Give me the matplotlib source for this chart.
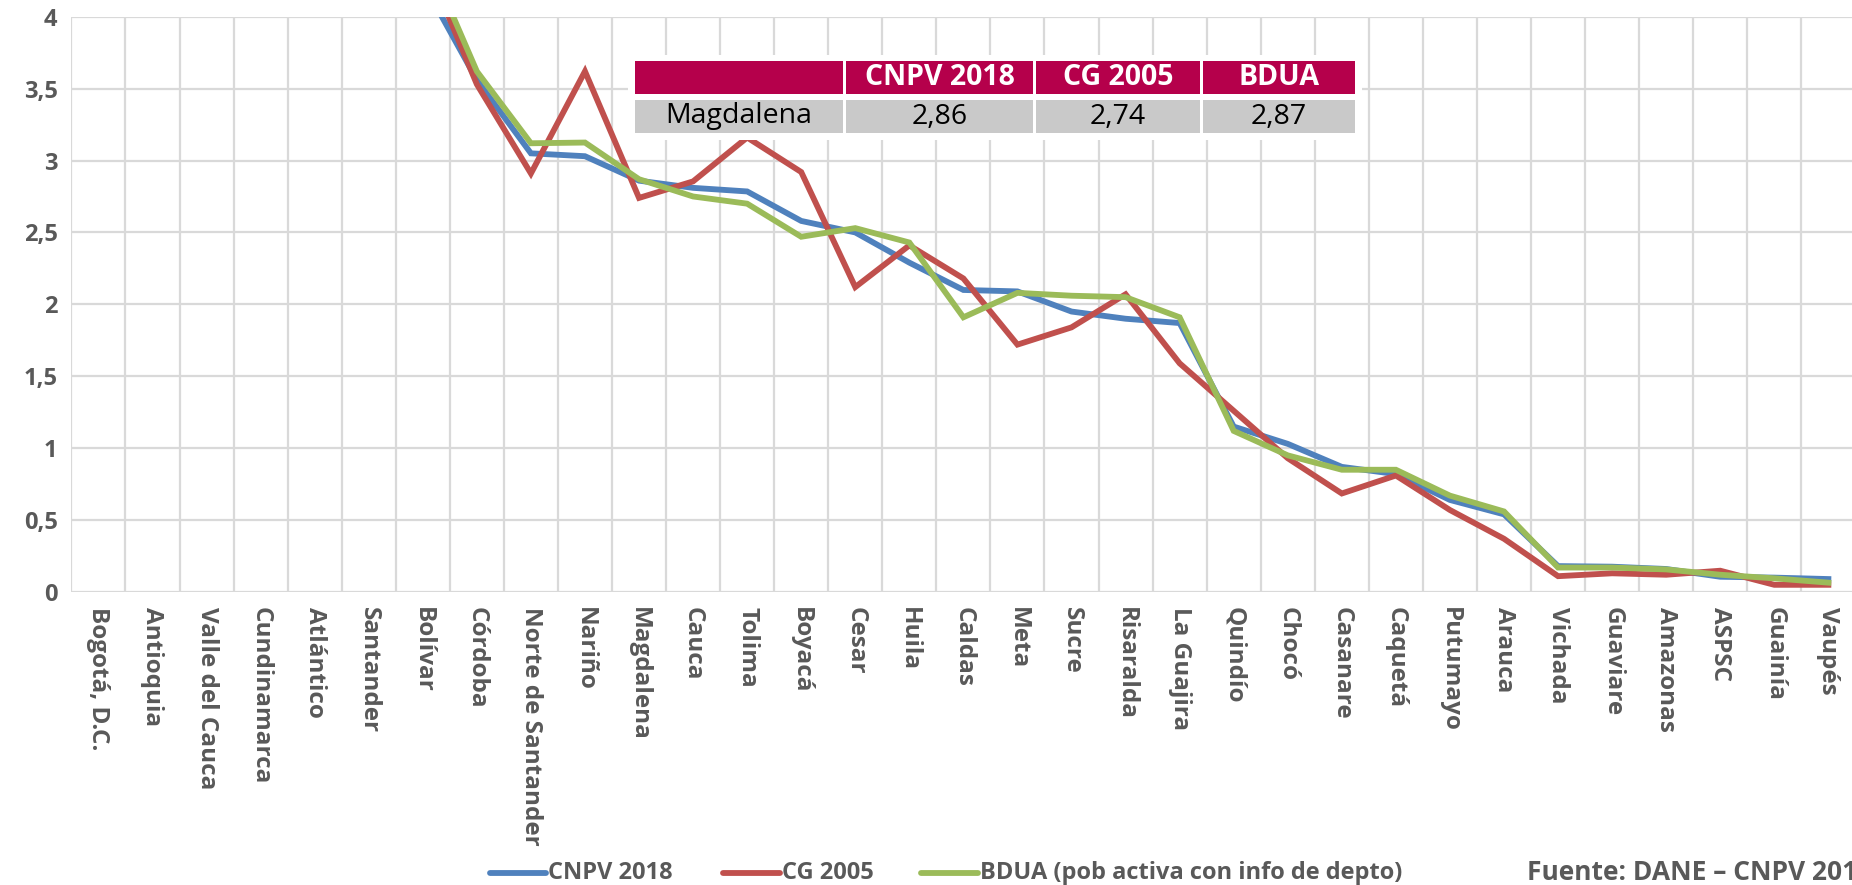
import matplotlib
matplotlib.use("Agg")
import matplotlib.pyplot as plt
from matplotlib.patches import Rectangle
from matplotlib.lines import Line2D

plt.rcParams['font.family'] = ['Open Sans', 'DejaVu Sans']

departamentos = ["Bogotá, D.C.", "Antioquia", "Valle del Cauca", "Cundinamarca", "Atlántico",
                 "Santander", "Bolívar", "Córdoba", "Norte de Santander", "Nariño", "Magdalena",
                 "Cauca", "Tolima", "Boyacá", "Cesar", "Huila", "Caldas", "Meta", "Sucre",
                 "Risaralda", "La Guajira", "Quindío", "Chocó", "Casanare", "Caquetá", "Putumayo",
                 "Arauca", "Vichada", "Guaviare", "Amazonas", "ASPSC", "Guainía", "Vaupés"]

# first seven departments are far above the visible range (clipped at 4)
cnpv_2018 = [16.0, 13.2, 9.3, 6.0, 5.2, 4.6, 4.24, 3.56, 3.05, 3.03, 2.86,
             2.81, 2.785, 2.58, 2.50, 2.29, 2.10, 2.09, 1.95, 1.90, 1.87,
             1.15, 1.03, 0.87, 0.82, 0.64, 0.54, 0.18, 0.176, 0.16, 0.106, 0.10, 0.09]
cg_2005 = [15.5, 13.0, 10.0, 5.5, 5.0, 4.7, 4.43, 3.53, 2.91, 3.62, 2.74,
           2.855, 3.16, 2.92, 2.12, 2.41, 2.18, 1.72, 1.84, 2.07, 1.59,
           1.26, 0.93, 0.685, 0.81, 0.57, 0.37, 0.11, 0.13, 0.12, 0.148, 0.05, 0.05]
bdua = [16.5, 12.8, 9.0, 5.8, 5.1, 4.8, 4.49, 3.62, 3.12, 3.125, 2.87,
        2.75, 2.70, 2.47, 2.53, 2.43, 1.91, 2.08, 2.06, 2.05, 1.91,
        1.12, 0.95, 0.85, 0.85, 0.67, 0.56, 0.17, 0.17, 0.157, 0.12, 0.095, 0.065]

series_names = ["CNPV 2018", "CG 2005", "BDUA (pob activa con info de depto)"]
colors = ["#4F81BD", "#C0504D", "#9BBB59"]

y_ticks = [0, 0.5, 1, 1.5, 2, 2.5, 3, 3.5, 4]
y_labels = ["0", "0,5", "1", "1,5", "2", "2,5", "3", "3,5", "4"]

table_header = ["CNPV 2018", "CG 2005", "BDUA"]
table_row = "Magdalena"
table_vals = ["2,86", "2,74", "2,87"]

W, H = 1852, 885
fig = plt.figure(figsize=(W / 100, H / 100), dpi=100)
ax = fig.add_axes([71.4 / W, 1 - 592 / H, (1855.4 - 71.4) / W, (592 - 16.7) / H])

x = list(range(len(departamentos)))
for vals, c in zip([cnpv_2018, cg_2005, bdua], colors):
    ax.plot(x, vals, color=c, lw=4.2, solid_joinstyle="miter", zorder=3)

ax.set_xlim(-0.5, len(departamentos) - 0.5)
ax.set_ylim(0, 4)
grid_c = "#D9D9D9"
for b in range(len(departamentos) + 1):
    ax.axvline(b - 0.5, color=grid_c, lw=1.6, zorder=1)
for t in y_ticks:
    ax.axhline(t, color=grid_c, lw=1.6, zorder=1)
for s in ax.spines.values():
    s.set_visible(False)

ax.set_yticks(y_ticks)
ax.set_yticklabels(y_labels)
ax.set_xticks(x)
ax.set_xticklabels(departamentos, rotation=-90)
ax.tick_params(axis="y", length=0, pad=10, labelsize=17, labelcolor="#595959")
ax.tick_params(axis="x", length=0, pad=11, labelsize=17.5, labelcolor="#595959")
for lab in ax.get_xticklabels() + ax.get_yticklabels():
    lab.set_fontweight("bold")

# summary table (pixel positions converted to figure fraction)
def box(x0, y0, x1, y1, fc):
    fig.add_artist(Rectangle((x0 / W, 1 - y1 / H), (x1 - x0) / W, (y1 - y0) / H,
                             transform=fig.transFigure, fc=fc, ec="none", zorder=5))

box(628, 55, 1362, 140, "white")
col_x = [(635, 843), (846, 1033), (1036, 1200), (1203, 1355)]
row_y = [(61, 94), (100, 133)]
crimson = "#B5004B"
gray = "#C9C9C9"
for i, (x0, x1) in enumerate(col_x):
    box(x0, row_y[0][0], x1, row_y[0][1], crimson)
    box(x0, row_y[1][0], x1, row_y[1][1], gray)
    cx = (x0 + x1) / 2 / W
    if i > 0:
        fig.text(cx, 1 - (row_y[0][0] + row_y[0][1]) / 2 / H, table_header[i - 1],
                 color="white", fontsize=20.5, fontweight="bold", ha="center", va="center", zorder=6)
        fig.text(cx, 1 - (row_y[1][0] + row_y[1][1]) / 2 / H, table_vals[i - 1],
                 color="black", fontsize=20.5, ha="center", va="center", zorder=6)
    else:
        fig.text(cx, 1 - (row_y[1][0] + row_y[1][1]) / 2 / H, table_row,
                 color="black", fontsize=20.5, ha="center", va="center", zorder=6)

# legend row
leg_y = 1 - 873 / H
leg_pos = [(490, 546), (723, 780), (921, 978)]
for (x0, x1), name, c in zip(leg_pos, series_names, colors):
    fig.add_artist(Line2D([x0 / W, x1 / W], [leg_y, leg_y], transform=fig.transFigure,
                          color=c, lw=4.2, solid_capstyle="round"))
    fig.text((x1 + 2) / W, leg_y, name, fontsize=17, fontweight="bold", color="#595959",
             ha="left", va="center")
fig.text(1527 / W, leg_y, "Fuente: DANE – CNPV 2018", fontsize=19, fontweight="bold",
         color="#595959", ha="left", va="center")

fig.savefig("out.png", dpi=100)
